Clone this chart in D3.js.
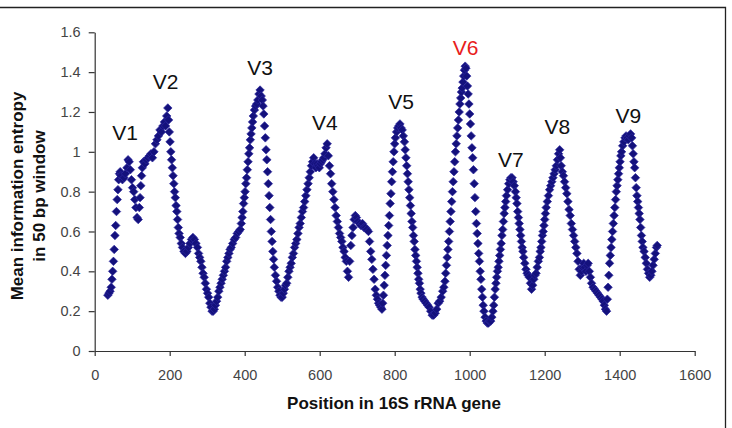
<!DOCTYPE html>
<html>
<head>
<meta charset="utf-8">
<script src="https://cdn.jsdelivr.net/npm/d3@7"></script>
<style>
  body { margin: 0; background: #fff; }
  svg { display: block; }
  text { font-family: "Liberation Sans", Arial, sans-serif; }
</style>
</head>
<body>
<div id="chart"></div>
<script>
// entropy profile, [position (bp), mean entropy]
const entropyV1V2 = [
  [35,0.28],[38,0.29],[41,0.30],[44,0.32],[46,0.36],[48,0.40],[50,0.45],[52,0.51],[54,0.58],[56,0.63],
  [58,0.70],[60,0.76],[62,0.81],[64,0.86],[66,0.89],[68,0.90],[70,0.88],[74,0.86],[78,0.87],[82,0.89],
  [86,0.92],[89,0.96],[92,0.95],[95,0.91],[98,0.86],[101,0.82],[104,0.80],[107,0.76],[110,0.72],[113,0.67],
  [116,0.66],[119,0.72],[121,0.77],[123,0.83],[125,0.88],[127,0.92],[130,0.95],[134,0.94],[138,0.96],[142,0.97],
  [146,0.98],[150,0.99],[154,0.97],[158,1.00],[162,1.04],[166,1.06],[170,1.08],[174,1.11],[178,1.10],[182,1.13],
  [186,1.15],[189,1.13],[192,1.18],[195,1.22],[197,1.16],[199,1.10],[201,1.05],[203,1.00],[205,0.96],[207,0.92],
  [209,0.88],[211,0.84],[213,0.80],[215,0.77],[217,0.73],[219,0.70],[221,0.66],[223,0.62],[225,0.59],[228,0.57],
  [231,0.54],[234,0.52],[238,0.50],[242,0.49],[246,0.50],[250,0.52],[254,0.54],[258,0.56],[262,0.57],[266,0.56],
  [270,0.54],[274,0.52],[277,0.49],[280,0.47],[283,0.45],[286,0.42],[289,0.39],[292,0.37],[295,0.34],[298,0.31],
  [301,0.29],[304,0.27],[307,0.24],[310,0.22],[313,0.20],[316,0.20],[319,0.21],[322,0.23],[325,0.25],[328,0.27],
  [331,0.30],[334,0.32],[337,0.34],[340,0.36],[343,0.38],[346,0.40],[349,0.42],[352,0.45],[355,0.47],[358,0.49],
  [361,0.51],[364,0.52],[368,0.54],[372,0.56],[376,0.57],[380,0.59],[384,0.60],[388,0.61],[391,0.64]
];
const entropyV3V4 = [
  [393,0.67],[395,0.70],[397,0.74],[399,0.77],[401,0.80],[403,0.84],[405,0.87],[407,0.91],[409,0.95],[411,0.99],
  [413,1.02],[415,1.06],[417,1.09],[419,1.12],[421,1.15],[423,1.18],[426,1.21],[429,1.23],[432,1.24],[435,1.26],
  [438,1.29],[441,1.31],[444,1.28],[447,1.26],[449,1.23],[451,1.19],[453,1.13],[455,1.07],[457,1.01],[459,0.96],
  [461,0.90],[463,0.84],[465,0.78],[467,0.72],[469,0.66],[471,0.60],[473,0.55],[475,0.50],[477,0.46],[479,0.42],
  [482,0.38],[485,0.35],[488,0.32],[491,0.30],[494,0.28],[497,0.27],[500,0.27],[503,0.29],[506,0.31],[509,0.33],
  [512,0.34],[515,0.37],[518,0.40],[521,0.42],[524,0.44],[527,0.47],[530,0.49],[533,0.52],[536,0.54],[539,0.56],
  [542,0.59],[545,0.62],[548,0.64],[551,0.67],[554,0.70],[557,0.72],[560,0.75],[563,0.78],[566,0.81],[569,0.84],
  [572,0.87],[575,0.90],[578,0.93],[581,0.95],[584,0.97],[587,0.94],[590,0.92],[593,0.94],[596,0.93],[599,0.92],
  [602,0.94],[605,0.95],[608,0.96],[611,0.97],[614,0.99],[617,1.02],[620,1.04],[623,0.98],[626,0.93],[629,0.89],
  [632,0.84],[635,0.80],[638,0.76],[641,0.72],[644,0.68],[647,0.65],[650,0.62],[653,0.59],[656,0.57],[659,0.55],
  [662,0.52],[665,0.50],[668,0.47],[671,0.45],[674,0.40],[677,0.37],[680,0.45],[683,0.53],[686,0.58],[689,0.62],
  [692,0.66],[695,0.68],[698,0.67],[702,0.65],[706,0.64],[710,0.63],[714,0.64],[718,0.62],[722,0.62],[726,0.61],
  [730,0.60],[733,0.55],[736,0.50],[739,0.46],[742,0.41],[745,0.36],[748,0.31],[751,0.28],[754,0.26],[757,0.24],
  [760,0.23],[763,0.22],[766,0.21]
];
const entropyV5V6 = [
  [768,0.24],[770,0.28],[772,0.33],[774,0.38],[776,0.43],[778,0.48],[780,0.53],[782,0.58],[784,0.63],[786,0.68],
  [788,0.74],[790,0.79],[792,0.85],[794,0.90],[796,0.95],[798,1.00],[800,1.04],[802,1.07],[805,1.10],[808,1.12],
  [811,1.13],[814,1.14],[817,1.12],[820,1.11],[823,1.08],[826,1.05],[828,1.01],[830,0.97],[832,0.93],[834,0.89],
  [836,0.85],[838,0.81],[840,0.77],[842,0.73],[844,0.69],[846,0.65],[848,0.62],[850,0.58],[852,0.55],[854,0.51],
  [856,0.48],[858,0.45],[860,0.42],[862,0.39],[864,0.36],[866,0.34],[868,0.31],[870,0.29],[873,0.27],[876,0.26],
  [880,0.25],[884,0.24],[888,0.23],[892,0.22],[896,0.20],[900,0.18],[904,0.18],[908,0.19],[912,0.21],[916,0.24],
  [920,0.25],[924,0.27],[928,0.30],[931,0.32],[934,0.35],[936,0.39],[938,0.43],[940,0.47],[942,0.51],[944,0.55],
  [946,0.60],[948,0.65],[950,0.70],[952,0.75],[954,0.80],[956,0.85],[958,0.90],[960,0.95],[962,1.00],[964,1.04],
  [966,1.08],[968,1.12],[970,1.16],[972,1.20],[974,1.24],[976,1.27],[978,1.30],[980,1.32],[982,1.35],[984,1.38],
  [986,1.41],[988,1.43],[990,1.42],[992,1.38],[994,1.33],[996,1.29],[998,1.24],[1000,1.19],[1002,1.14],[1004,1.08],
  [1006,1.02],[1008,0.97],[1010,0.91],[1012,0.84],[1014,0.77],[1016,0.70],[1018,0.64],[1020,0.59],[1022,0.54],[1024,0.49],
  [1026,0.45],[1028,0.40],[1030,0.36],[1032,0.31],[1034,0.27],[1036,0.23],[1038,0.20],[1041,0.17],[1044,0.15],[1047,0.14],
  [1050,0.14],[1053,0.15],[1056,0.15],[1059,0.17],[1062,0.20],[1064,0.23],[1066,0.27],[1068,0.31],[1070,0.34],[1072,0.37],
  [1074,0.40],[1076,0.42],[1078,0.45],[1080,0.48],[1082,0.51],[1084,0.54],[1086,0.58],[1088,0.61],[1090,0.65],[1092,0.69],
  [1094,0.72],[1096,0.75],[1098,0.78]
];
const entropyV7V9 = [
  [1101,0.81],[1104,0.84],[1107,0.86],[1110,0.87],[1113,0.87],[1116,0.85],[1119,0.83],[1122,0.80],[1124,0.77],[1126,0.74],
  [1128,0.70],[1130,0.67],[1132,0.64],[1134,0.61],[1136,0.58],[1138,0.55],[1140,0.52],[1142,0.50],[1144,0.47],[1147,0.44],
  [1150,0.41],[1153,0.39],[1156,0.38],[1159,0.37],[1162,0.34],[1165,0.31],[1168,0.33],[1171,0.36],[1174,0.38],[1177,0.39],
  [1180,0.42],[1183,0.45],[1186,0.47],[1188,0.50],[1190,0.52],[1192,0.55],[1194,0.58],[1196,0.60],[1198,0.63],[1200,0.66],
  [1202,0.69],[1204,0.72],[1207,0.75],[1210,0.78],[1213,0.81],[1216,0.83],[1219,0.85],[1222,0.87],[1225,0.89],[1228,0.91],
  [1231,0.93],[1234,0.96],[1237,0.99],[1240,1.01],[1242,0.97],[1244,0.93],[1247,0.90],[1250,0.88],[1253,0.85],[1256,0.82],
  [1259,0.79],[1262,0.75],[1265,0.71],[1268,0.68],[1271,0.64],[1274,0.61],[1277,0.58],[1280,0.55],[1283,0.52],[1286,0.49],
  [1289,0.45],[1292,0.41],[1295,0.38],[1298,0.40],[1301,0.42],[1304,0.44],[1307,0.42],[1310,0.40],[1313,0.43],[1316,0.44],
  [1319,0.40],[1322,0.37],[1325,0.34],[1329,0.32],[1333,0.31],[1337,0.30],[1341,0.29],[1345,0.28],[1349,0.27],[1353,0.26],
  [1356,0.25],[1359,0.23],[1362,0.21],[1365,0.20],[1367,0.26],[1369,0.32],[1371,0.38],[1373,0.44],[1375,0.48],[1377,0.52],
  [1379,0.56],[1381,0.60],[1383,0.64],[1385,0.68],[1387,0.72],[1389,0.76],[1391,0.80],[1393,0.83],[1395,0.86],[1397,0.89],
  [1399,0.92],[1401,0.95],[1403,0.98],[1405,1.00],[1408,1.03],[1411,1.05],[1414,1.07],[1417,1.08],[1420,1.07],[1423,1.06],
  [1426,1.08],[1429,1.09],[1432,1.07],[1434,1.03],[1436,0.99],[1438,0.95],[1440,0.92],[1442,0.87],[1444,0.82],[1446,0.78],
  [1448,0.75],[1450,0.72],[1452,0.69],[1454,0.66],[1456,0.62],[1458,0.58],[1460,0.55],[1462,0.52],[1465,0.50],[1468,0.47],
  [1471,0.44],[1474,0.41],[1477,0.39],[1480,0.37],[1483,0.38],[1486,0.40],[1489,0.43],[1492,0.46],[1495,0.49],[1498,0.52],
  [1500,0.53]
];

// variable-region labels, anchored in data units (centre x, baseline y)
const regionNames = ['V1', 'V2', 'V3', 'V4', 'V5', 'V6', 'V7', 'V8', 'V9'];
const regionPos = [81, 189, 441, 614, 817, 989, 1110, 1234, 1423];
const regionVal = [1.06, 1.315, 1.385, 1.11, 1.215, 1.486, 0.924, 1.09, 1.145];
const highlighted = 'V6';

const xTicks = [0, 200, 400, 600, 800, 1000, 1200, 1400, 1600];
const yTicks = [0, 0.2, 0.4, 0.6, 0.8, 1, 1.2, 1.4, 1.6];

const data = [].concat(entropyV1V2, entropyV3V4, entropyV5V6, entropyV7V9);

const W = 732, H = 428;
const x = d3.scaleLinear().domain([0, 1600]).range([94.7, 694.7]);
const y = d3.scaleLinear().domain([0, 1.6]).range([351, 32.3]);

const svg = d3.select('#chart').append('svg')
  .attr('width', W)
  .attr('height', H);

svg.append('rect').attr('width', W).attr('height', H).attr('fill', '#fff');

// outer frame (only top and right edges fall inside the picture)
svg.append('path')
  .attr('d', `M0,7.5H725.5V${H}`)
  .attr('fill', 'none')
  .attr('stroke', '#222')
  .attr('stroke-width', 1.3);

const xAxis = svg.append('g')
  .attr('transform', `translate(0,${y(0)})`)
  .call(d3.axisBottom(x).tickValues(xTicks).tickSize(5).tickSizeOuter(0).tickFormat(d3.format('d')));
xAxis.selectAll('text').attr('y', 29).attr('dy', 0);

const yAxis = svg.append('g')
  .attr('transform', `translate(${x(0)},0)`)
  .call(d3.axisLeft(y).tickValues(yTicks).tickSize(6).tickSizeOuter(0).tickFormat(d => d3.format('~g')(d)));
yAxis.selectAll('text').attr('x', -14);

svg.selectAll('.domain, .tick line').attr('stroke', '#333').attr('stroke-width', 1.2);
svg.selectAll('.tick text')
  .attr('fill', '#444')
  .style('font-size', '14.5px')
  .style('font-family', '"Liberation Sans", Arial, sans-serif');

// axis titles
svg.append('text')
  .attr('x', 394)
  .attr('y', 409)
  .attr('text-anchor', 'middle')
  .style('font-size', '17px')
  .style('font-weight', 'bold')
  .attr('fill', '#111')
  .text('Position in 16S rRNA gene');

const yTitle = svg.append('text')
  .attr('transform', 'translate(0,196) rotate(-90)')
  .attr('text-anchor', 'middle')
  .style('font-size', '17px')
  .style('font-weight', 'bold')
  .attr('fill', '#111');
yTitle.append('tspan').attr('x', 0).attr('y', 23).text('Mean information entropy');
yTitle.append('tspan').attr('x', 0).attr('y', 45).text('in 50 bp window');

// diamond markers
const diamond = d3.symbol().type(d3.symbolDiamond2).size(46);
svg.append('g')
  .selectAll('path')
  .data(data)
  .enter()
  .append('path')
  .attr('transform', d => `translate(${x(d[0])},${y(d[1])})`)
  .attr('d', diamond)
  .attr('fill', '#14117c')
  .attr('stroke', '#2b279e')
  .attr('stroke-width', 0.7);

// region labels
svg.append('g')
  .selectAll('text')
  .data(regionNames)
  .enter()
  .append('text')
  .attr('x', (d, i) => x(regionPos[i]))
  .attr('y', (d, i) => y(regionVal[i]))
  .attr('text-anchor', 'middle')
  .style('font-size', '21px')
  .attr('fill', d => d === highlighted ? '#e8201c' : '#111')
  .text(d => d);
</script>
</body>
</html>
